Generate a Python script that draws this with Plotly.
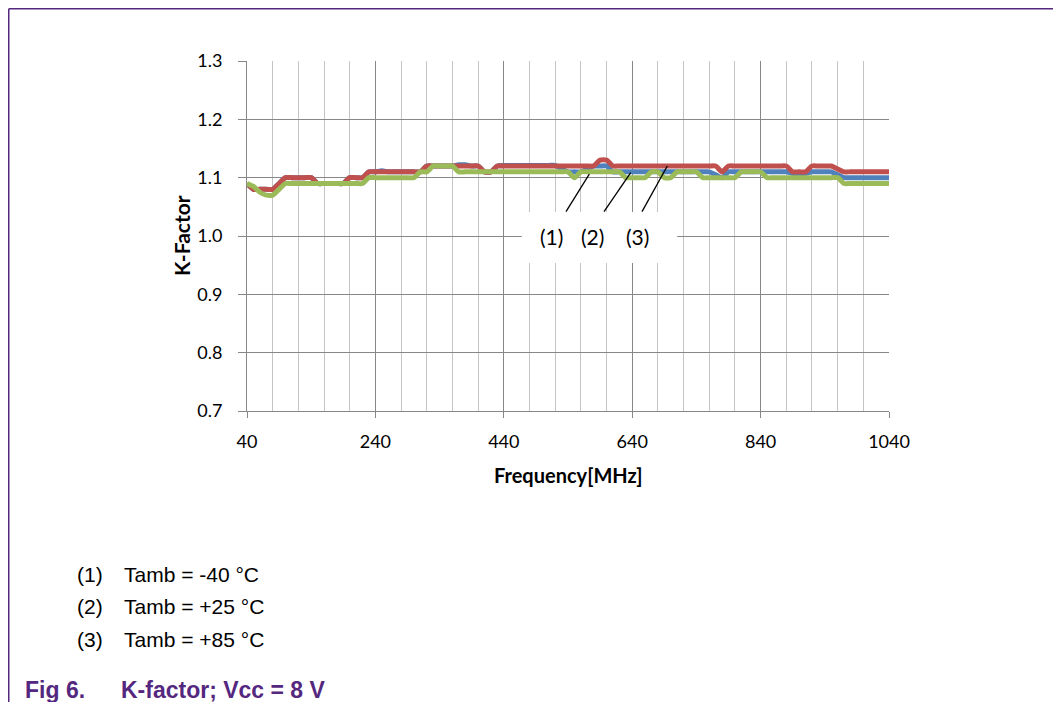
import plotly.graph_objects as go

freq = [40, 50, 60, 70, 80, 90, 100, 110, 120, 130,
        140, 150, 160, 170, 180, 190, 200, 210, 220, 230,
        240, 250, 260, 270, 280, 290, 300, 310, 320, 330,
        340, 350, 360, 370, 380, 390, 400, 410, 420, 430,
        440, 450, 460, 470, 480, 490, 500, 510, 520, 530,
        540, 550, 560, 570, 580, 590, 600, 610, 620, 630,
        640, 650, 660, 670, 680, 690, 700, 710, 720, 730,
        740, 750, 760, 770, 780, 790, 800, 810, 820, 830,
        840, 850, 860, 870, 880, 890, 900, 910, 920, 930,
        940, 950, 960, 970, 980, 990, 1000, 1010, 1020, 1030,
        1040]

k_blue = [1.09, 1.08, 1.08, 1.08, 1.08, 1.09, 1.10, 1.10, 1.10, 1.10,
          1.10, 1.09, 1.09, 1.09, 1.09, 1.09, 1.10, 1.10, 1.10, 1.11,
          1.11, 1.112, 1.11, 1.11, 1.11, 1.11, 1.11, 1.11, 1.12, 1.12,
          1.12, 1.12, 1.12, 1.122, 1.122, 1.12, 1.12, 1.11, 1.11, 1.12,
          1.121, 1.121, 1.121, 1.121, 1.121, 1.121, 1.121, 1.121, 1.121, 1.115,
          1.11, 1.11, 1.11, 1.115, 1.12, 1.12, 1.12, 1.11, 1.11, 1.11,
          1.11, 1.11, 1.11, 1.11, 1.11, 1.11, 1.11, 1.11, 1.11, 1.11,
          1.11, 1.11, 1.11, 1.105, 1.10, 1.11, 1.11, 1.11, 1.11, 1.11,
          1.11, 1.11, 1.11, 1.11, 1.11, 1.107, 1.107, 1.107, 1.11, 1.11,
          1.11, 1.11, 1.105, 1.10, 1.10, 1.10, 1.10, 1.10, 1.10, 1.10,
          1.10]

k_red = [1.09, 1.08, 1.08, 1.08, 1.08, 1.09, 1.10, 1.10, 1.10, 1.10,
         1.10, 1.09, 1.09, 1.09, 1.09, 1.09, 1.10, 1.10, 1.10, 1.11,
         1.11, 1.11, 1.11, 1.11, 1.11, 1.11, 1.11, 1.11, 1.12, 1.12,
         1.12, 1.12, 1.12, 1.12, 1.12, 1.12, 1.12, 1.11, 1.11, 1.12,
         1.12, 1.12, 1.12, 1.12, 1.12, 1.12, 1.12, 1.12, 1.12, 1.12,
         1.12, 1.12, 1.12, 1.12, 1.12, 1.13, 1.13, 1.12, 1.12, 1.12,
         1.12, 1.12, 1.12, 1.12, 1.12, 1.12, 1.12, 1.12, 1.12, 1.12,
         1.12, 1.12, 1.12, 1.12, 1.11, 1.12, 1.12, 1.12, 1.12, 1.12,
         1.12, 1.12, 1.12, 1.12, 1.12, 1.11, 1.11, 1.11, 1.12, 1.12,
         1.12, 1.12, 1.115, 1.11, 1.11, 1.11, 1.11, 1.11, 1.11, 1.11,
         1.11]

k_green = [1.09, 1.085, 1.075, 1.07, 1.07, 1.08, 1.09, 1.09, 1.09, 1.09,
           1.09, 1.09, 1.09, 1.09, 1.09, 1.09, 1.09, 1.09, 1.09, 1.10,
           1.10, 1.10, 1.10, 1.10, 1.10, 1.10, 1.10, 1.11, 1.11, 1.12,
           1.12, 1.12, 1.12, 1.11, 1.11, 1.11, 1.11, 1.11, 1.11, 1.11,
           1.11, 1.11, 1.11, 1.11, 1.11, 1.11, 1.11, 1.11, 1.11, 1.11,
           1.11, 1.10, 1.11, 1.11, 1.11, 1.11, 1.11, 1.11, 1.11, 1.10,
           1.10, 1.10, 1.10, 1.11, 1.11, 1.10, 1.10, 1.11, 1.11, 1.11,
           1.11, 1.10, 1.10, 1.10, 1.10, 1.10, 1.10, 1.11, 1.11, 1.11,
           1.11, 1.10, 1.10, 1.10, 1.10, 1.10, 1.10, 1.10, 1.10, 1.10,
           1.10, 1.10, 1.10, 1.09, 1.09, 1.09, 1.09, 1.09, 1.09, 1.09,
           1.09]

x_ticks = [40, 240, 440, 640, 840, 1040]
y_ticks = [0.7, 0.8, 0.9, 1.0, 1.1, 1.2, 1.3]
callout_labels = ["(1)", "(2)", "(3)"]
callout_text_x = [514.6, 578.5, 648.0]
callout_line_x0 = [536.9, 596.1, 655.3]
callout_line_x1 = [573.2, 637.7, 694.7]
callout_line_y1 = [1.106, 1.1085, 1.12]
legend_nums = ["(1)", "(2)", "(3)"]
legend_texts = ["Tamb = -40 °C", "Tamb = +25 °C", "Tamb = +85 °C"]

PURPLE = "#55287f"
MAJOR = "#878787"
MINOR = "#c4c4c4"

fig = go.Figure()
series = [("Tamb = +25 °C", k_blue, "#4f81bd"),
          ("Tamb = +85 °C", k_red, "#c0504d"),
          ("Tamb = -40 °C", k_green, "#9bbb59")]
for name, ys, col in series:
    fig.add_trace(go.Scatter(x=freq, y=ys, mode="lines", name=name,
                             line=dict(color=col, width=5, shape="spline", smoothing=0.6)))

OFF = 8  # page body margin
W, H = 1061 - OFF, 702 - OFF
L, R, T, B = 247 - OFF, 889 - OFF, 61 - OFF, 411 - OFF
pw, ph = R - L, B - T


def px(x):
    return (x - OFF - L) / pw


def py(y):
    return (B - (y - OFF)) / ph


fig.update_layout(
    width=W, height=H,
    margin=dict(l=L, r=W - R, t=T, b=H - B),
    paper_bgcolor="white", plot_bgcolor="white",
    showlegend=False,
    font=dict(family="Lato", size=18, color="#000000"),
)
fig.update_xaxes(
    range=[40, 1040], tickvals=x_ticks, ticktext=[str(v) for v in x_ticks],
    showgrid=True, gridcolor=MAJOR, gridwidth=1,
    minor=dict(dtick=40, tick0=40, showgrid=True, gridcolor=MINOR, gridwidth=1, ticks=""),
    showline=True, linecolor=MAJOR, linewidth=1,
    ticks="outside", ticklen=6, tickcolor=MAJOR,
    ticklabelstandoff=8, zeroline=False,
    tickfont=dict(family="Lato", size=18),
)
fig.update_yaxes(
    range=[0.7, 1.3], tickvals=y_ticks, ticktext=[f"{v:.1f}" for v in y_ticks],
    showgrid=True, gridcolor=MAJOR, gridwidth=1,
    showline=True, linecolor=MAJOR, linewidth=1,
    ticks="outside", ticklen=8, tickcolor=MAJOR,
    ticklabelstandoff=12, zeroline=False,
    tickfont=dict(family="Lato", size=18),
)

shapes = []
# white callout box
shapes.append(dict(type="rect", xref="x", yref="y", x0=468, x1=710, y0=0.9537, y1=1.0411,
                   fillcolor="white", line=dict(width=0), layer="above"))
for x0, x1, y1 in zip(callout_line_x0, callout_line_x1, callout_line_y1):
    shapes.append(dict(type="line", xref="x", yref="y", x0=x0, y0=1.0417, x1=x1, y1=y1,
                       line=dict(color="black", width=1.3), layer="above"))
# purple frame
shapes.append(dict(type="line", xref="paper", yref="paper", x0=px(8.7), x1=px(1070), y0=py(8.8), y1=py(8.8),
                   line=dict(color=PURPLE, width=1.6)))
shapes.append(dict(type="line", xref="paper", yref="paper", x0=px(8.7), x1=px(8.7), y0=py(8.8), y1=py(710),
                   line=dict(color=PURPLE, width=1.6)))
fig.update_layout(shapes=shapes)

ann = []
for t, x in zip(callout_labels, callout_text_x):
    ann.append(dict(text=t, x=x, y=1.0, xref="x", yref="y", showarrow=False,
                    font=dict(family="Lato", size=21, color="black"), xanchor="center", yanchor="middle"))
ann.append(dict(text="<b>K-Factor</b>", x=px(181), y=py(236), xref="paper", yref="paper",
                showarrow=False, textangle=-90, font=dict(family="Lato", size=21, color="black"),
                xanchor="center", yanchor="middle"))
ann.append(dict(text="<b>Frequency[MHz]</b>", x=px(568), y=py(475), xref="paper", yref="paper",
                showarrow=False, font=dict(family="Lato", size=20, color="black"),
                xanchor="center", yanchor="middle"))
for i, (n, t) in enumerate(zip(legend_nums, legend_texts)):
    yy = [574, 606, 639][i]
    ann.append(dict(text=n, x=px(75), y=py(yy), xref="paper", yref="paper", showarrow=False,
                    font=dict(family="Liberation Sans", size=21, color="black"),
                    xanchor="left", yanchor="middle"))
    ann.append(dict(text=t, x=px(122), y=py(yy), xref="paper", yref="paper", showarrow=False,
                    font=dict(family="Liberation Sans", size=21, color="black"),
                    xanchor="left", yanchor="middle"))
ann.append(dict(text="<b>Fig 6.</b>", x=px(23), y=py(690), xref="paper", yref="paper", showarrow=False,
                font=dict(family="Liberation Sans", size=23, color=PURPLE), xanchor="left", yanchor="middle"))
ann.append(dict(text="<b>K-factor; Vcc = 8 V</b>", x=px(119), y=py(690), xref="paper", yref="paper",
                showarrow=False, font=dict(family="Liberation Sans", size=23, color=PURPLE),
                xanchor="left", yanchor="middle"))
fig.update_layout(annotations=ann)

fig.write_html("out.html")
